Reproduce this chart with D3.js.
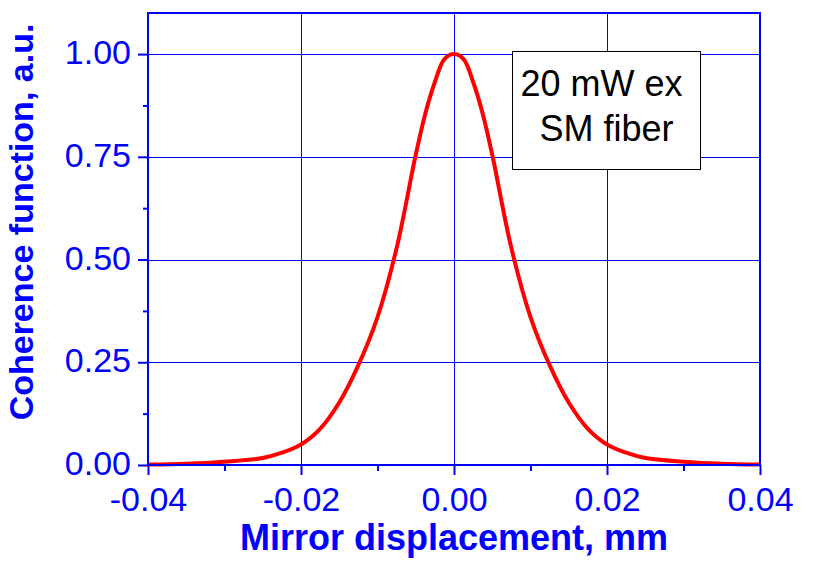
<!DOCTYPE html>
<html>
<head>
<meta charset="utf-8">
<script src="https://cdn.jsdelivr.net/npm/d3@7"></script>
<style>
  body { margin: 0; background: #fff; }
  text { font-family: 'Liberation Sans', Arial, sans-serif; }
</style>
</head>
<body>
<div id="chart"></div>
<script>
// mirror displacement (mm) and coherence (a.u.)
const displacement = [
  -0.04, -0.035, -0.03, -0.025, -0.0225, -0.02, -0.0175, -0.015, -0.0125,
  -0.01, -0.0075, -0.005, -0.00375, -0.0025, -0.00125, 0,
  0.00125, 0.0025, 0.00375, 0.005, 0.0075, 0.01, 0.0125, 0.015, 0.0175,
  0.02, 0.0225, 0.025, 0.03, 0.035, 0.04,
]
const coherence = [
  0.001, 0.003, 0.008, 0.017, 0.03, 0.05, 0.088, 0.152, 0.243,
  0.36, 0.528, 0.755, 0.855, 0.932, 0.988, 1.0,
  0.988, 0.932, 0.855, 0.755, 0.528, 0.36, 0.243, 0.152, 0.088,
  0.05, 0.03, 0.017, 0.008, 0.003, 0.001,
]

const xMajorTicks = [-0.04, -0.02, 0, 0.02, 0.04]
const xMinorTicks = [-0.03, -0.01, 0.01, 0.03]
const yMajorTicks = [0, 0.25, 0.5, 0.75, 1.0]
const yMinorTicks = [0.125, 0.375, 0.625, 0.875]

const xLabel = 'Mirror displacement, mm'
const yLabel = 'Coherence function, a.u.'
const noteLines = ['20 mW ex', 'SM fiber']

const blue = '#0000ff'
const red = '#ff0000'

const width = 813
const height = 568
const margin = { top: 13, right: 53, bottom: 103, left: 148 }
const innerW = width - margin.left - margin.right
const innerH = height - margin.top - margin.bottom

// plain hyphen for negatives, like the original
const fmt = d => d3.format('.2f')(d).replace('\u2212', '-')

const svg = d3
  .select('#chart')
  .append('svg')
  .attr('width', width)
  .attr('height', height)

const chartCore = svg
  .append('g')
  .attr('transform', `translate(${margin.left}, ${margin.top})`)

const xScale = d3.scaleLinear().domain([-0.04, 0.04]).range([0, innerW])
const yScale = d3.scaleLinear().domain([0, 1.1]).range([innerH, 0])

// grid
chartCore
  .append('g')
  .selectAll('line')
  .data(xMajorTicks)
  .join('line')
  .attr('x1', d => Math.round(xScale(d)) + 0.5)
  .attr('x2', d => Math.round(xScale(d)) + 0.5)
  .attr('y1', 0)
  .attr('y2', innerH)
  .attr('stroke', blue)
  .attr('stroke-width', 1)
  .attr('shape-rendering', 'crispEdges')

chartCore
  .append('g')
  .selectAll('line')
  .data(yMajorTicks)
  .join('line')
  .attr('x1', 0)
  .attr('x2', innerW)
  .attr('y1', d => Math.round(yScale(d)) + 0.5)
  .attr('y2', d => Math.round(yScale(d)) + 0.5)
  .attr('stroke', blue)
  .attr('stroke-width', 1)
  .attr('shape-rendering', 'crispEdges')

// axes
const xAxis = chartCore
  .append('g')
  .attr('transform', `translate(0, ${innerH})`)
  .call(
    d3
      .axisBottom(xScale)
      .tickValues(xMajorTicks)
      .tickSize(10)
      .tickPadding(12)
      .tickFormat(fmt),
  )
chartCore
  .append('g')
  .attr('transform', `translate(0, ${innerH})`)
  .call(d3.axisBottom(xScale).tickValues(xMinorTicks).tickSize(6).tickFormat(''))

const yAxis = chartCore
  .append('g')
  .call(
    d3
      .axisLeft(yScale)
      .tickValues(yMajorTicks)
      .tickSize(10)
      .tickPadding(7)
      .tickFormat(fmt),
  )
chartCore
  .append('g')
  .call(d3.axisLeft(yScale).tickValues(yMinorTicks).tickSize(5).tickFormat(''))

chartCore.selectAll('.domain').remove()
chartCore
  .selectAll('.tick line')
  .attr('stroke', blue)
  .attr('stroke-width', 2)
chartCore
  .selectAll('.tick text')
  .attr('fill', blue)
  .attr('font-size', 34)
  .attr('font-family', "'Liberation Sans', Arial, sans-serif")
xAxis.selectAll('.tick text').attr('dy', '0.71em')
yAxis.selectAll('.tick text').attr('dy', '0.28em')

// curve
const points = displacement.map((x, i) => ({ x, y: coherence[i] }))
chartCore
  .append('path')
  .datum(points)
  .attr('fill', 'none')
  .attr('stroke', red)
  .attr('stroke-width', 4)
  .attr('stroke-linejoin', 'round')
  .attr(
    'd',
    d3
      .line()
      .x(d => xScale(d.x))
      .y(d => yScale(d.y))
      .curve(d3.curveCatmullRom.alpha(0.5)),
  )

// frame
chartCore
  .append('rect')
  .attr('x', 0)
  .attr('y', 0)
  .attr('width', innerW)
  .attr('height', innerH)
  .attr('fill', 'none')
  .attr('stroke', blue)
  .attr('stroke-width', 2)

// note box
const note = chartCore.append('g').attr('transform', 'translate(364.5, 38.5)')
note
  .append('rect')
  .attr('width', 188)
  .attr('height', 118)
  .attr('fill', '#fff')
  .attr('stroke', '#000')
  .attr('stroke-width', 1)
note
  .selectAll('text')
  .data(noteLines)
  .join('text')
  .attr('x', (d, i) => (i === 0 ? 8 : 27))
  .attr('y', (d, i) => 44 + i * 45)
  .attr('font-size', 36)
  .attr('fill', '#000')
  .text(d => d)

// axis titles
svg
  .append('text')
  .attr('x', margin.left + innerW / 2)
  .attr('y', 550)
  .attr('text-anchor', 'middle')
  .attr('font-size', 36)
  .attr('font-weight', 'bold')
  .attr('fill', blue)
  .text(xLabel)

svg
  .append('text')
  .attr('transform', `translate(33, 222) rotate(-90)`)
  .attr('text-anchor', 'middle')
  .attr('font-size', 34)
  .attr('font-weight', 'bold')
  .attr('fill', blue)
  .text(yLabel)
</script>
</body>
</html>
